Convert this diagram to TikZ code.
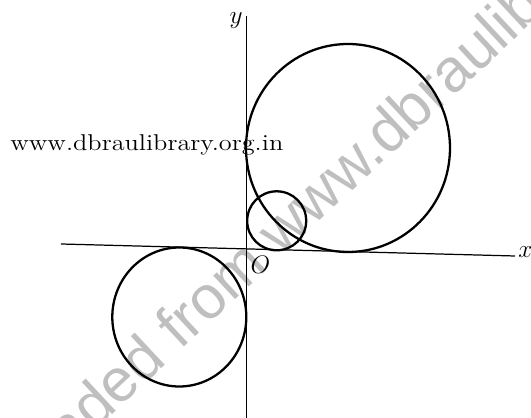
\documentclass[tikz,border=0pt]{standalone}
\usepackage{fontspec}
\newfontfamily\markfont{Liberation Sans}
\usetikzlibrary{calc}
\tikzset{curve/.style={line width=1.3pt},axis/.style={line width=0.7pt},lbl/.style={inner sep=0pt,font=\fontsize{14}{16}\selectfont}}

\begin{document}
\begin{tikzpicture}[x=0.02cm,y=0.02cm]
\useasboundingbox (-246.5,-168) rectangle (284.5,250);
\begin{scope}
\clip (-246.5,-168) rectangle (284.5,250);
\node[rotate=43,text=black!25,inner sep=0pt,font=\markfont\fontsize{34.6}{40}\selectfont] (mark) at (75,52) {Downloaded from www.dbraulibrary.org.in};% watermark
\end{scope}

\coordinate (ytop) at (0,234);
\coordinate (ybot) at (0,-168);
\coordinate (xleft) at (-185.5,6);
\coordinate (xright) at (268.5,-6);
\draw[axis] (xleft) -- (xright);% x-axis
\draw[axis] (ybot) -- (ytop);% y-axis
\node[lbl] (ylab) at (-10.5,229) {$y$};
\node[lbl] (xlab) at (279,-2) {$x$};
\node[lbl] (orig) at (14,-15) {$O$};

\draw[curve] (101.5,102) ellipse [x radius=102,y radius=104];
\draw[curve] (30.2,29.2) circle [radius=29.5];
\draw[curve] (-67.2,-67) ellipse [x radius=67,y radius=69.5];

\node[anchor=base west,inner sep=0pt,font=\fontsize{13}{15}\selectfont] (site) at (-236.5,99.3) {\scalebox{1.15}[1]{www.dbraulibrary.org.in}};

\end{tikzpicture}
\end{document}
